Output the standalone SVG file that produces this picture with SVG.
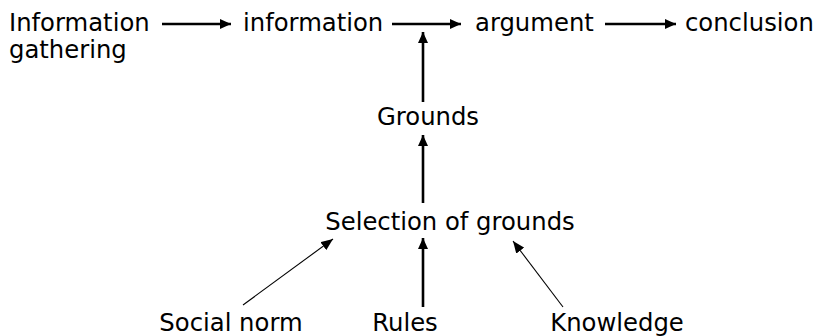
<svg xmlns="http://www.w3.org/2000/svg" width="816" height="336" viewBox="0 0 816 336">
<style>
text{font-family:"DejaVu Sans",Verdana,sans-serif;font-size:24.3px;fill:#000}
.thick{stroke:#000;stroke-width:2.6;fill:none}
.thin{stroke:#000;stroke-width:1.1;fill:none}
</style>
<defs>
<marker id="ah" markerUnits="userSpaceOnUse" markerWidth="11" markerHeight="10" refX="11" refY="5" orient="auto">
<path d="M0,0 L11,5 L0,10 z" fill="#000"/>
</marker>
<marker id="ahs" markerUnits="userSpaceOnUse" markerWidth="12" markerHeight="10" refX="12" refY="5" orient="auto">
<path d="M0,0 L12,5 L0,10 z" fill="#000"/>
</marker>
</defs>
<rect width="816" height="336" fill="#fff"/>
<g id="info-gathering"><text x="9" y="31">Information</text><text x="9" y="58">gathering</text></g>
<g id="information"><text x="243" y="31">information</text></g>
<g id="argument"><text x="475" y="31">argument</text></g>
<g id="conclusion"><text x="685" y="31">conclusion</text></g>
<g id="grounds"><text x="428" y="125" text-anchor="middle">Grounds</text></g>
<g id="selection"><text x="450" y="230" text-anchor="middle">Selection of grounds</text></g>
<g id="social-norm"><text x="231" y="331" text-anchor="middle">Social norm</text></g>
<g id="rules"><text x="405" y="331" text-anchor="middle">Rules</text></g>
<g id="knowledge"><text x="617" y="331" text-anchor="middle">Knowledge</text></g>
<g id="connectors">
<line class="thick" x1="162" y1="24" x2="231" y2="24" marker-end="url(#ah)"/>
<line class="thick" x1="392" y1="24" x2="461" y2="24" marker-end="url(#ah)"/>
<line class="thick" x1="605" y1="24" x2="676" y2="24" marker-end="url(#ah)"/>
<line class="thick" x1="423" y1="102" x2="423" y2="32" marker-end="url(#ah)"/>
<line class="thick" x1="423" y1="203" x2="423" y2="135" marker-end="url(#ah)"/>
<line class="thick" x1="423" y1="307" x2="423" y2="238" marker-end="url(#ah)"/>
<line class="thin" x1="243" y1="305" x2="333" y2="239" marker-end="url(#ahs)"/>
<line class="thin" x1="563" y1="307" x2="513" y2="241" marker-end="url(#ahs)"/>
</g>
</svg>
